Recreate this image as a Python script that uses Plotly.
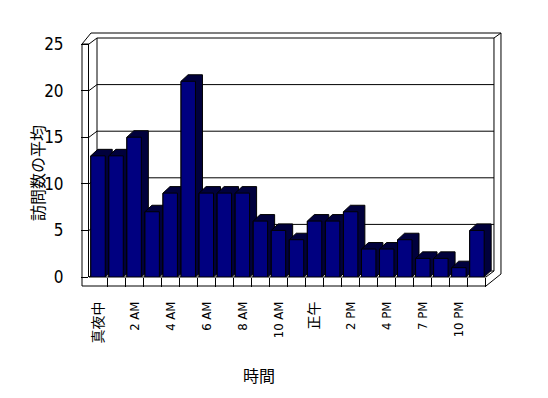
import plotly.graph_objects as go

# ---- data ----
hours = ["真夜中", "1 AM", "2 AM", "3 AM", "4 AM", "5 AM", "6 AM", "7 AM", "8 AM",
         "9 AM", "10 AM", "11 AM", "正午", "1 PM", "2 PM", "3 PM", "4 PM", "5 PM",
         "7 PM", "8 PM", "10 PM", "11 PM"]
visits = [13, 13, 15, 7, 9, 21, 9, 9, 9, 6, 5, 4, 6, 6, 7, 3, 3, 4, 2, 2, 1, 5]
y_ticks = [0, 5, 10, 15, 20, 25]
y_title = "訪問数の平均"
x_title = "時間"

# ---- layout geometry (page pixels) ----
W, H = 548, 398
PAGE_OFF = 8                      # default body margin of the html page
L, T = 89, 44                     # plot area left / top in page px
PLOT_R, PLOT_B = 495, 277         # plot area right / bottom in page px
PW, PH = PLOT_R - L, PLOT_B - T
XMIN, XMAX = -0.5, 22.0
YMAX = 25
N = len(hours)
UX = PW / (XMAX - XMIN)      # px per category
UY = PH / YMAX               # px per value unit
WALL_DX, WALL_DY = 8, 6      # wall depth in px
BAR_W = 0.8
BDX, BDY = 7 / UX, 6.5 / UY  # bar depth in data units

FONT = "Liberation Sans Narrow, Arial Narrow, DejaVu Sans Condensed, Noto Sans CJK JP"
CJK = "Noto Sans CJK JP, Noto Sans CJK SC, sans-serif"


def px(x):
    return (x - L) / PW


def py(y):
    return (PLOT_B - y) / PH


shapes = []


def seg(x0, y0, x1, y1):
    shapes.append(dict(type="line", xref="paper", yref="paper",
                       x0=px(x0), y0=py(y0), x1=px(x1), y1=py(y1),
                       line=dict(color="black", width=1), layer="below"))


front_left = L
front_right = L + N * UX
y0f = PLOT_B
ytop = T
back_left = front_left + WALL_DX
back_right = front_right + WALL_DX
outer_left = front_left - 7
outer_right = back_right + 7
floor_bottom = y0f + 9

# left wall front edge and top
seg(outer_left, ytop, outer_left, floor_bottom)
seg(outer_left, ytop, front_left, ytop)
seg(outer_left, ytop, front_left + 2, ytop - 11)
seg(front_left + 2, ytop - 11, outer_right, ytop - 11)
# back wall
seg(back_left, ytop - WALL_DY, back_left, y0f - WALL_DY)
seg(back_right, ytop - WALL_DY, back_right, y0f - WALL_DY)
seg(back_right, ytop - WALL_DY, outer_right, ytop - 11)
seg(outer_right, ytop - 11, outer_right, floor_bottom - 12)
# floor
seg(front_left, y0f, front_right, y0f)
seg(outer_left, floor_bottom, front_right, floor_bottom)
seg(front_right, y0f, back_right, y0f - WALL_DY)
seg(front_right, floor_bottom, outer_right, floor_bottom - 12)
# gridlines on back wall + left wall
for v in y_ticks:
    yf = y0f - v * UY
    yb = yf - WALL_DY
    seg(front_left, yf, back_left, yb)
    seg(back_left, yb, back_right, yb)

fig = go.Figure()

# 3D top/side faces of bars (drawn behind the front faces)
for i, v in enumerate(visits):
    xl, xr = i - BAR_W / 2, i + BAR_W / 2
    xs = [xl, xl, xl + BDX, xr + BDX, xr + BDX, xr, xl]
    ys = [0, v, v + BDY, v + BDY, BDY, 0, 0]
    fig.add_trace(go.Scatter(x=xs, y=ys, mode="lines", fill="toself",
                             fillcolor="#00003c",
                             line=dict(color="#000000", width=1),
                             hoverinfo="skip", showlegend=False,
                             xaxis="x", yaxis="y"))

# front faces
fig.add_trace(go.Bar(x=hours, y=visits, width=BAR_W,
                     marker=dict(color="#000080", line=dict(color="black", width=1)),
                     showlegend=False, xaxis="x2", yaxis="y2"))


def lab(t):
    if any(ord(c) > 0x2e80 for c in t):
        return t
    return f'<span style="font-size:13px">{t}</span>'


shown = hours[::2]

fig.update_layout(
    width=W, height=H,
    margin=dict(l=L - PAGE_OFF, r=W + PAGE_OFF - PLOT_R,
                t=T - PAGE_OFF, b=H + PAGE_OFF - PLOT_B, autoexpand=False),
    paper_bgcolor="white", plot_bgcolor="rgba(0,0,0,0)",
    font=dict(family=FONT, color="black", size=12),
    shapes=shapes,
    xaxis=dict(range=[XMIN, XMAX], showgrid=False, zeroline=False, showline=False,
               tickmode="array", tickvals=[k - 0.5 for k in range(1, N + 1)],
               ticks="outside", ticklen=9, tickcolor="black", tickwidth=1,
               showticklabels=False),
    yaxis=dict(range=[0, YMAX], showgrid=False, zeroline=False,
               showline=True, linecolor="black", linewidth=1,
               tickmode="array", tickvals=y_ticks,
               ticks="outside", ticklen=7, tickcolor="black", tickwidth=1,
               ticklabelstandoff=14,
               tickfont=dict(family=FONT, size=17)),
    xaxis2=dict(overlaying="x", type="category", range=[XMIN, XMAX],
                showgrid=False, zeroline=False, showline=False,
                tickmode="array", tickvals=shown, ticktext=[lab(t) for t in shown],
                ticks="outside", ticklen=9, tickcolor="rgba(0,0,0,0)",
                tickangle=-90, ticklabelstandoff=9,
                tickfont=dict(family=FONT + ", " + CJK, size=14), side="bottom", anchor="y2"),
    yaxis2=dict(overlaying="y", range=[0, YMAX], visible=False),
    annotations=[
        dict(text=y_title, xref="paper", yref="paper", x=px(37), y=py(173),
             showarrow=False, textangle=-90, font=dict(family=CJK, size=16),
             xanchor="center", yanchor="middle"),
        dict(text=x_title, xref="paper", yref="paper", x=px(259), y=py(375),
             showarrow=False, font=dict(family=CJK, size=16),
             xanchor="center", yanchor="middle"),
    ],
)

fig.write_html("out.html")
